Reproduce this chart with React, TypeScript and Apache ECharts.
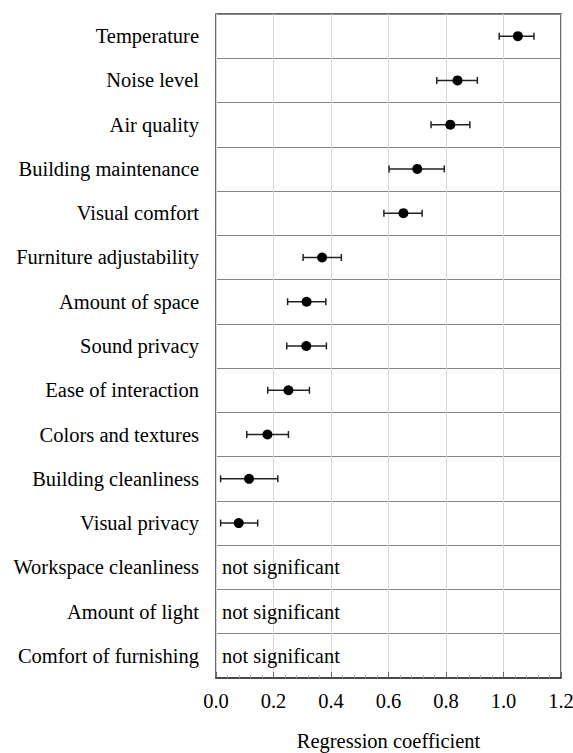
import React, { useEffect, useRef } from "react";
import * as echarts from "echarts";

const categories = [
  "Temperature",
  "Noise level",
  "Air quality",
  "Building maintenance",
  "Visual comfort",
  "Furniture adjustability",
  "Amount of space",
  "Sound privacy",
  "Ease of interaction",
  "Colors and textures",
  "Building cleanliness",
  "Visual privacy",
  "Workspace cleanliness",
  "Amount of light",
  "Comfort of furnishing",
];

const coefficients = [1.05, 0.84, 0.815, 0.7, 0.652, 0.369, 0.315, 0.314, 0.252, 0.179, 0.115, 0.079];
const lowerCI = [0.985, 0.768, 0.748, 0.602, 0.584, 0.303, 0.249, 0.246, 0.18, 0.107, 0.016, 0.016];
const upperCI = [1.106, 0.909, 0.883, 0.794, 0.717, 0.436, 0.382, 0.384, 0.325, 0.252, 0.215, 0.145];

const notSignificant = ["Workspace cleanliness", "Amount of light", "Comfort of furnishing"];

const xTicks = { min: 0, max: 1.2, interval: 0.2 };

const FONT = "'Liberation Serif', 'Times New Roman', 'DejaVu Serif', serif";
const INK = "#000000";
const FS = 20.5;

export default function App() {
  const ref = useRef<HTMLDivElement>(null);

  useEffect(() => {
    if (!ref.current) return;
    const chart = echarts.init(ref.current, null, { renderer: "svg" });

    const errData = coefficients.map((_, i) => [lowerCI[i], upperCI[i], categories[i]]);
    const pointData = coefficients.map((v, i) => [v, categories[i]]);
    const nsData = notSignificant.map((c) => [0, c]);

    chart.setOption({
      animation: false,
      backgroundColor: "#ffffff",
      textStyle: { fontFamily: FONT, color: INK },
      grid: {
        left: 216,
        right: 12,
        top: 14,
        bottom: 75,
        containLabel: false,
        outerBoundsMode: "none",
        show: true,
        borderColor: "#3a3a3a",
        borderWidth: 1.5,
        backgroundColor: "transparent",
      },
      xAxis: {
        type: "value",
        min: xTicks.min,
        max: xTicks.max,
        interval: xTicks.interval,
        name: "Regression coefficient",
        nameLocation: "middle",
        nameGap: 52,
        nameTextStyle: { fontFamily: FONT, fontSize: FS, color: INK },
        axisLine: { show: true, lineStyle: { color: "#3a3a3a", width: 1.5 } },
        axisTick: { show: true, inside: true, length: 6, lineStyle: { color: "#666" } },
        minorTick: { show: true, splitNumber: 5, length: 3, lineStyle: { color: "#aaa" } },
        axisLabel: {
          fontFamily: FONT,
          fontSize: FS,
          color: INK,
          margin: 12,
          formatter: (v: number) => v.toFixed(1),
        },
        splitLine: { show: true, lineStyle: { color: "#ddd7d0", width: 1 } },
      },
      yAxis: {
        type: "category",
        data: categories,
        inverse: true,
        axisLine: { show: false },
        axisTick: { show: false },
        axisLabel: { fontFamily: FONT, fontSize: FS, color: INK, margin: 17 },
        splitLine: { show: true, interval: 0, lineStyle: { color: "#8a8580", width: 1.2 } },
      },
      series: [
        {
          type: "custom",
          data: errData,
          encode: { x: [0, 1], y: 2 },
          z: 3,
          renderItem: (params: any, api: any) => {
            const y = api.value(2);
            const lo = api.coord([api.value(0), y]);
            const hi = api.coord([api.value(1), y]);
            const h = 3.5;
            const style = { stroke: "#222", lineWidth: 1.5 };
            return {
              type: "group",
              children: [
                { type: "line", shape: { x1: lo[0], y1: lo[1], x2: hi[0], y2: hi[1] }, style },
                { type: "line", shape: { x1: lo[0], y1: lo[1] - h, x2: lo[0], y2: lo[1] + h }, style },
                { type: "line", shape: { x1: hi[0], y1: hi[1] - h, x2: hi[0], y2: hi[1] + h }, style },
              ],
            };
          },
        },
        {
          type: "scatter",
          data: pointData,
          symbol: "circle",
          symbolSize: 10,
          z: 4,
          itemStyle: { color: "#000", opacity: 1 },
        },
        {
          type: "scatter",
          data: nsData,
          symbolSize: 0,
          z: 4,
          itemStyle: { color: "#000", opacity: 1 },
          label: {
            show: true,
            position: "right",
            distance: 6,
            formatter: "not significant",
            fontFamily: FONT,
            fontSize: FS,
            color: INK,
          },
        },
      ],
    });

    return () => chart.dispose();
  }, []);

  return (
    <div
      ref={ref}
      style={{ position: "fixed", left: 0, top: 0, width: 573, height: 753, background: "#fff" }}
    />
  );
}
